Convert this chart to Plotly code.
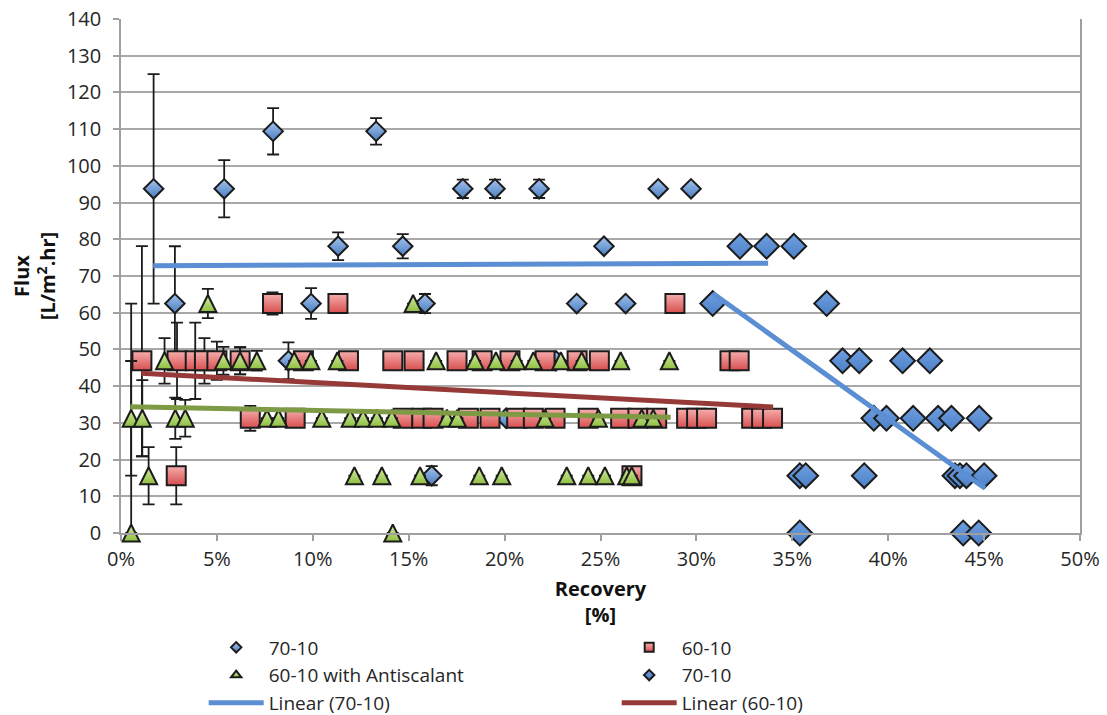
import plotly.graph_objects as go

# Flux levels used by the test rig (L/m2.hr)
F0, F1, F2, F3, F4, F5, F6, F7 = 0.0, 15.6, 31.25, 46.9, 62.5, 78.1, 93.75, 109.4

# ---- 70-10 (run with error bars) ----
a_recovery = [1.70, 2.81, 5.38, 7.93, 8.73, 9.91, 11.32, 13.30, 14.69, 15.85, 16.20,
              17.82, 19.50, 20.08, 21.80, 22.68, 23.76, 25.18, 26.31, 28.01, 29.72]
a_flux = [F6, F4, F6, F7, F3, F4, F5, F7, F5, F4, F1,
          F6, F6, F2, F6, F3, F4, F5, F4, F6, F6]
a_err_up = [31.25, 15.6, 7.8, 6.3, 5.0, 4.2, 3.8, 3.6, 3.3, 2.6, 2.6,
            2.5, 2.5, 0, 2.5, 0, 0, 0, 0, 0, 0]
a_err_dn = [31.25, 15.6, 7.8, 6.3, 5.0, 4.2, 3.8, 3.6, 3.3, 2.6, 2.6,
            2.5, 2.5, 0, 2.5, 0, 0, 0, 0, 0, 0]

# ---- 60-10 ----
b_recovery = [7.90, 11.31, 28.88,
              1.09, 2.92, 3.87, 4.35, 5.00, 6.21, 9.51, 11.86, 14.17, 15.28, 17.52, 18.83,
              20.28, 22.11, 23.78, 24.94, 31.75, 32.23,
              6.74, 9.08, 14.71, 15.68, 16.27, 18.11, 19.24, 20.63, 21.50, 22.63, 24.36,
              26.05, 26.95, 27.93, 29.49, 30.01, 30.53, 32.88, 33.40, 33.97,
              2.88, 26.64]
b_flux = [F4, F4, F4,
          F3, F3, F3, F3, F3, F3, F3, F3, F3, F3, F3, F3,
          F3, F3, F3, F3, F3, F3,
          F2, F2, F2, F2, F2, F2, F2, F2, F2, F2, F2,
          F2, F2, F2, F2, F2, F2, F2, F2, F2,
          F1, F1]
b_err_up = [3.0, 0, 0,
            31.25, 10.4, 10.4, 6.2, 5.2, 3.7, 0, 0, 0, 0, 0, 0,
            0, 0, 0, 0, 0, 0,
            3.4, 0, 0, 0, 0, 0, 0, 0, 0, 0, 0,
            0, 0, 0, 0, 0, 0, 0, 0, 0,
            7.8, 0]
b_err_dn = [3.0, 0, 0,
            26.0, 10.4, 10.4, 6.2, 5.2, 3.7, 0, 0, 0, 0, 0, 0,
            0, 0, 0, 0, 0, 0,
            3.4, 0, 0, 0, 0, 0, 0, 0, 0, 0, 0,
            0, 0, 0, 0, 0, 0, 0, 0, 0,
            7.8, 0]

# ---- 60-10 with Antiscalant ----
c_recovery = [4.53, 15.23,
              2.27, 5.34, 6.21, 7.08, 9.03, 9.90, 11.28, 16.43, 18.46, 19.55, 20.63, 21.50,
              22.93, 24.02, 26.05, 28.59,
              0.53, 1.11, 2.83, 3.35, 7.61, 8.21, 10.47, 11.95, 12.62, 13.34, 14.12, 16.99,
              17.54, 22.11, 24.89, 27.15, 27.75,
              1.44, 12.17, 13.60, 15.59, 18.68, 19.85, 23.24, 24.36, 25.23, 26.37, 26.63,
              0.53, 14.17]
c_flux = [F4, F4,
          F3, F3, F3, F3, F3, F3, F3, F3, F3, F3, F3, F3,
          F3, F3, F3, F3,
          F2, F2, F2, F2, F2, F2, F2, F2, F2, F2, F2, F2,
          F2, F2, F2, F2, F2,
          F1, F1, F1, F1, F1, F1, F1, F1, F1, F1, F1,
          F0, F0]
c_err_up = [4.0, 0,
            6.2, 3.8, 3.7, 2.7, 0, 0, 0, 0, 0, 0, 0, 0,
            0, 0, 0, 0,
            15.6, 10.4, 5.6, 5.0, 0, 0, 0, 0, 0, 0, 0, 0,
            0, 0, 0, 0, 0,
            7.8, 0, 0, 0, 0, 0, 0, 0, 0, 0, 0,
            62.5, 0]
c_err_dn = [4.0, 0,
            6.2, 3.8, 3.7, 2.7, 0, 0, 0, 0, 0, 0, 0, 0,
            0, 0, 0, 0,
            15.6, 10.4, 5.6, 5.0, 0, 0, 0, 0, 0, 0, 0, 0,
            0, 0, 0, 0, 0,
            7.8, 0, 0, 0, 0, 0, 0, 0, 0, 0, 0,
            0, 0]

# ---- 70-10 (second run) ----
d_recovery = [30.85, 32.27, 33.66, 35.08, 36.79,
              37.62, 38.49, 40.75, 42.17,
              39.25, 39.91, 41.30, 42.60, 43.30, 44.74,
              35.39, 35.70, 38.75, 43.48, 43.74, 44.08, 45.00,
              35.39, 43.91, 44.72]
d_flux = [F4, F5, F5, F5, F4,
          F3, F3, F3, F3,
          F2, F2, F2, F2, F2, F2,
          F1, F1, F1, F1, F1, F1, F1,
          F0, F0, F0]

# ---- linear trend lines (end points) ----
trend_70_a_x = [1.68, 33.74]
trend_70_a_y = [72.8, 73.5]
trend_70_b_x = [30.85, 45.04]
trend_70_b_y = [65.3, 12.2]
trend_60_x = [1.06, 34.0]
trend_60_y = [43.5, 34.3]
trend_60as_x = [0.48, 28.66]
trend_60as_y = [34.4, 31.5]

x_ticks = [0, 5, 10, 15, 20, 25, 30, 35, 40, 45, 50]
x_tick_labels = [f"{v}%" for v in x_ticks]

FONT = "Open Sans"
TXT = "#262626"
EDGE = "#1c1c1c"

# marker styles shared by the plotted points and their legend keys
STYLE_A = dict(symbol="diamond", color="#a3c3ee",
               gradient=dict(type="vertical", color="#4a7dc0"),
               line=dict(color=EDGE, width=2))
STYLE_B = dict(symbol="square", color="#f6adad",
               gradient=dict(type="vertical", color="#d84f4f"),
               line=dict(color=EDGE, width=2))
STYLE_C = dict(color="#d3eba0",
               gradient=dict(type="vertical", color="#8fbf42"),
               line=dict(color=EDGE, width=2))
STYLE_D = dict(symbol="diamond", color="#6f9fe0",
               gradient=dict(type="vertical", color="#4b80c6"),
               line=dict(color=EDGE, width=2))


def err(up, dn):
    return dict(type="data", symmetric=False, array=up, arrayminus=dn,
                color=EDGE, thickness=1.8, width=6)


fig = go.Figure()

fig.add_trace(go.Scatter(
    x=a_recovery, y=a_flux, mode="markers", name="70-10", showlegend=False,
    error_y=err(a_err_up, a_err_dn), cliponaxis=False,
    marker=dict(size=15, **STYLE_A),
))
fig.add_trace(go.Scatter(
    x=b_recovery, y=b_flux, mode="markers", name="60-10", showlegend=False,
    error_y=err(b_err_up, b_err_dn), cliponaxis=False,
    marker=dict(size=19, **STYLE_B),
))
# upright triangles centred on the point (arrow shape turned over and shifted)
fig.add_trace(go.Scatter(
    x=c_recovery, y=c_flux, mode="markers", name="60-10 with Antiscalant",
    showlegend=False, error_y=err(c_err_up, c_err_dn), cliponaxis=False,
    marker=dict(symbol="arrow-down", angle=180, standoff=8.5, size=17, **STYLE_C),
))
fig.add_trace(go.Scatter(
    x=d_recovery, y=d_flux, mode="markers", name="70-10", showlegend=False,
    cliponaxis=False, marker=dict(size=19, **STYLE_D),
))

# trend lines
fig.add_trace(go.Scatter(
    x=trend_70_a_x, y=trend_70_a_y, mode="lines", name="Linear (70-10)",
    legendrank=5, line=dict(color="#5b8ed2", width=5),
))
fig.add_trace(go.Scatter(
    x=trend_60_x, y=trend_60_y, mode="lines", name="Linear (60-10)",
    legendrank=6, line=dict(color="#953a38", width=5),
))
fig.add_trace(go.Scatter(
    x=trend_70_b_x, y=trend_70_b_y, mode="lines", name="Linear (70-10)",
    showlegend=False, line=dict(color="#5b8ed2", width=5),
))
fig.add_trace(go.Scatter(
    x=trend_60as_x, y=trend_60as_y, mode="lines",
    name="Linear (60-10 with Antiscalant)",
    showlegend=False, line=dict(color="#7e9a44", width=5),
))

# legend keys with small symbols
for rank, name, style, size in [
    (1, "70-10", STYLE_A, 8),
    (2, "60-10", STYLE_B, 9),
    (3, "60-10 with Antiscalant", dict(symbol="triangle-up", **STYLE_C), 9),
    (4, "70-10", STYLE_D, 8),
]:
    fig.add_trace(go.Scatter(
        x=[None], y=[None], mode="markers", name=name, legendrank=rank,
        marker=dict(size=size, **style),
    ))

fig.update_layout(
    width=1107, height=715,
    margin=dict(l=121, r=27, t=19, b=182, autoexpand=False),
    paper_bgcolor="white", plot_bgcolor="white",
    font=dict(family=FONT, size=20, color=TXT),
    legend=dict(
        orientation="h", xref="container", yref="container",
        x=0.184, y=0.121, xanchor="left", yanchor="top",
        entrywidth=343, entrywidthmode="pixels",
        itemwidth=55, itemsizing="trace",
        font=dict(family=FONT, size=19, color=TXT),
        bgcolor="rgba(0,0,0,0)",
    ),
    xaxis=dict(
        range=[0, 50], tickmode="array", tickvals=x_ticks, ticktext=x_tick_labels,
        showgrid=False, zeroline=False, automargin=True,
        showline=True, linecolor="#a0a0a0", linewidth=1.5,
        ticks="outside", ticklen=6, tickcolor="#a0a0a0", tickwidth=1.5,
        ticklabelstandoff=1,
        tickfont=dict(family=FONT, size=20, color=TXT),
        title=dict(text="<b>Recovery<br>[%]</b>", standoff=22,
                   font=dict(family=FONT, size=20, color="#111")),
    ),
    yaxis=dict(
        range=[0, 140], dtick=10, tick0=0,
        showgrid=True, gridcolor="#a8a8a8", gridwidth=1.5, zeroline=False,
        showline=True, linecolor="#a0a0a0", linewidth=1.5, mirror=True,
        ticks="outside", ticklen=6, tickcolor="#a0a0a0", tickwidth=1.5,
        ticklabelstandoff=8,
        tickfont=dict(family=FONT, size=20, color=TXT),
        title=dict(text="<b>Flux<br>[L/m<sup>2</sup>.hr]</b>", standoff=6,
                   font=dict(family=FONT, size=20, color="#111")),
    ),
)

fig.write_html("out.html")
